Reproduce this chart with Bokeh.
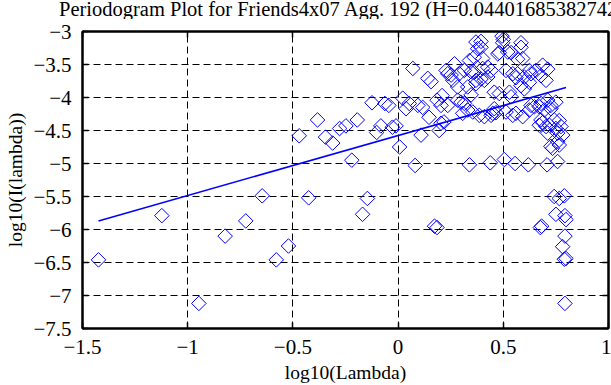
import numpy as np
from bokeh.plotting import figure
from bokeh.layouts import column
from bokeh.models import Range1d, FixedTicker, LinearAxis, Div
from bokeh.embed import file_html
from bokeh.resources import INLINE

title_text = "Periodogram Plot for Friends4x07 Agg. 192 (H=0.044016853827426)"
x_label = "log10(Lambda)"
y_label = "log10(I(lambda))"

x_ticks = [-1.5, -1.0, -0.5, 0.0, 0.5, 1.0]
x_tick_labels = ["\u22121.5", "\u22121", "\u22120.5", "0", "0.5", "1"]
y_ticks = [-7.5, -7.0, -6.5, -6.0, -5.5, -5.0, -4.5, -4.0, -3.5, -3.0]
y_tick_labels = ["\u22127.5", "\u22127", "\u22126.5", "\u22126", "\u22125.5",
                 "\u22125", "\u22124.5", "\u22124", "\u22123.5", "\u22123"]

log_lambda = [
    -1.424, -1.123, -0.947, -0.822, -0.724, -0.646, -0.579, -0.521, -0.470, -0.425,
    -0.383, -0.345, -0.311, -0.278, -0.248, -0.220, -0.194, -0.169, -0.146, -0.124,
    -0.102, -0.082, -0.063, -0.044, -0.027, -0.010, 0.007, 0.022, 0.038, 0.053,
    0.070, 0.081, 0.094, 0.109, 0.117, 0.141, 0.147, 0.157, 0.173, 0.185,
    0.185, 0.195, 0.204, 0.204, 0.209, 0.218, 0.228, 0.236, 0.236, 0.252,
    0.260, 0.268, 0.283, 0.283, 0.291, 0.299, 0.307, 0.315, 0.315, 0.331,
    0.331, 0.339, 0.339, 0.347, 0.347, 0.355, 0.362, 0.362, 0.370, 0.370,
    0.370, 0.378, 0.386, 0.394, 0.394, 0.394, 0.402, 0.402, 0.410, 0.410,
    0.426, 0.426, 0.438, 0.442, 0.442, 0.450, 0.457, 0.457, 0.465, 0.474,
    0.481, 0.481, 0.494, 0.497, 0.500, 0.505, 0.513, 0.513, 0.521, 0.529,
    0.537, 0.537, 0.545, 0.545, 0.556, 0.560, 0.560, 0.568, 0.568, 0.584,
    0.584, 0.584, 0.592, 0.592, 0.600, 0.600, 0.619, 0.624, 0.624, 0.624,
    0.632, 0.632, 0.648, 0.655, 0.671, 0.671, 0.676, 0.682, 0.679, 0.679,
    0.679, 0.687, 0.687, 0.695, 0.703, 0.703, 0.708, 0.711, 0.711, 0.711,
    0.719, 0.726, 0.726, 0.726, 0.734, 0.742, 0.742, 0.750, 0.750, 0.750,
    0.758, 0.758, 0.758, 0.766, 0.766, 0.766, 0.774, 0.782, 0.782, 0.790,
    0.790, 0.793, 0.793, 0.793, 0.798, 0.798,
]
log_I = [
    -6.46, -5.79, -7.12, -6.10, -5.87, -5.49, -6.46, -6.25, -4.58, -5.52,
    -4.34, -4.60, -4.69, -4.47, -4.43, -4.95, -4.34, -5.77, -5.53, -4.08,
    -4.53, -4.43, -4.09, -4.12, -4.45, -4.43, -4.75, -4.01, -4.17, -4.09,
    -3.56, -5.03, -4.12, -4.57, -4.15, -3.71, -4.30, -3.76, -5.95, -5.97,
    -4.04, -4.50, -4.39, -4.12, -3.97, -4.37, -3.59, -4.12, -3.64, -3.66,
    -3.74, -3.49, -3.84, -4.04, -3.64, -4.07, -4.24, -3.59, -4.09, -3.84,
    -4.19, -3.44, -5.02, -3.61, -3.96, -4.22, -3.39, -3.62, -3.16, -3.74,
    -3.79, -3.26, -4.27, -3.15, -3.24, -3.72, -3.41, -3.56, -3.74, -4.29,
    -3.69, -3.54, -4.99, -3.59, -4.27, -4.24, -3.92, -4.17, -4.23, -3.34,
    -3.32, -3.94, -3.07, -3.17, -3.12, -4.94, -3.59, -4.22, -3.31, -3.92,
    -3.99, -3.32, -4.27, -3.64, -5.00, -4.24, -3.70, -3.42, -3.64, -3.17,
    -3.24, -3.82, -3.41, -4.29, -3.69, -3.87, -5.02, -3.77, -4.19, -3.59,
    -3.64, -4.12, -4.14, -3.59, -4.14, -4.42, -5.97, -5.95, -3.67, -4.09,
    -4.34, -3.51, -4.38, -4.19, -3.74, -4.44, -5.02, -3.57, -4.04, -4.54,
    -4.42, -4.17, -4.74, -4.12, -4.77, -4.34, -5.50, -4.07, -4.47, -5.77,
    -4.54, -4.97, -4.67, -4.72, -5.53, -4.35, -4.44, -4.57, -6.26, -5.49,
    -6.45, -5.79, -6.10, -7.12, -5.85, -6.44,
]

fit_x = [-1.424, 0.798]
fit_y = [-5.87, -3.85]

FONT = "Liberation Serif"
TITLE_H = 21

title_div = Div(
    text=('<div style="font-family:\'Liberation Serif\';font-size:20.5px;line-height:19px;'
          'white-space:nowrap;overflow:hidden;padding-left:59px;color:#000;">'
          + title_text + '</div>'),
    width=611, height=TITLE_H, margin=0,
    styles={"overflow": "hidden", "white-space": "nowrap"},
)

p = figure(width=611, height=385 - TITLE_H, output_backend="svg", toolbar_location=None,
           x_range=Range1d(-1.5, 1.0), y_range=Range1d(-7.5, -3.0),
           x_axis_label=x_label, y_axis_label=y_label)
p.margin = 0
p.min_border_left = 82
p.min_border_right = 3
p.min_border_top = 31 - TITLE_H
p.min_border_bottom = 55
p.background_fill_color = "white"
p.border_fill_color = "white"
p.outline_line_color = "black"
p.outline_line_width = 2

x_over = {t: l for t, l in zip(x_ticks, x_tick_labels)}
y_over = {t: l for t, l in zip(y_ticks, y_tick_labels)}

for ax, ticks, over in ((p.xaxis[0], x_ticks, x_over), (p.yaxis[0], y_ticks, y_over)):
    ax.ticker = FixedTicker(ticks=ticks)
    ax.major_label_overrides = over
    ax.major_label_text_font = FONT
    ax.major_label_text_font_size = "21px"
    ax.major_label_text_color = "black"
    ax.axis_label_text_font = FONT
    ax.axis_label_text_font_size = "19.5px"
    ax.axis_label_text_font_style = "normal"
    ax.axis_label_text_color = "black"
    ax.major_tick_in = 6
    ax.major_tick_out = 0
    ax.minor_tick_line_color = None
    ax.axis_line_width = 2
    ax.major_tick_line_width = 1.5
p.xaxis[0].major_label_standoff = 11
p.xaxis[0].axis_label_standoff = 5
p.yaxis[0].major_label_standoff = 11
p.yaxis[0].axis_label_standoff = 4

for loc, ticks in (("above", x_ticks), ("right", y_ticks)):
    ax2 = LinearAxis(ticker=FixedTicker(ticks=ticks), major_label_text_font_size="0px",
                     major_tick_in=6, major_tick_out=0, minor_tick_line_color=None,
                     axis_line_width=2, major_tick_line_width=1.5, major_label_standoff=0)
    p.add_layout(ax2, loc)

for g, ticks in ((p.xgrid[0], x_ticks), (p.ygrid[0], y_ticks)):
    g.ticker = FixedTicker(ticks=ticks)
    g.grid_line_color = "black"
    g.grid_line_dash = "7 4"
    g.grid_line_width = 1
    g.grid_line_alpha = 1

p.scatter(log_lambda, log_I, marker="square", size=10.3, angle=np.pi / 4,
          line_color="#0000ff", fill_color=None, line_width=1)
p.line(fit_x, fit_y, line_color="#0000ff", line_width=1.6)

layout = column(title_div, p, spacing=0)
layout.margin = 0

open("out.html", "w", encoding="utf-8").write(file_html(layout, INLINE))
